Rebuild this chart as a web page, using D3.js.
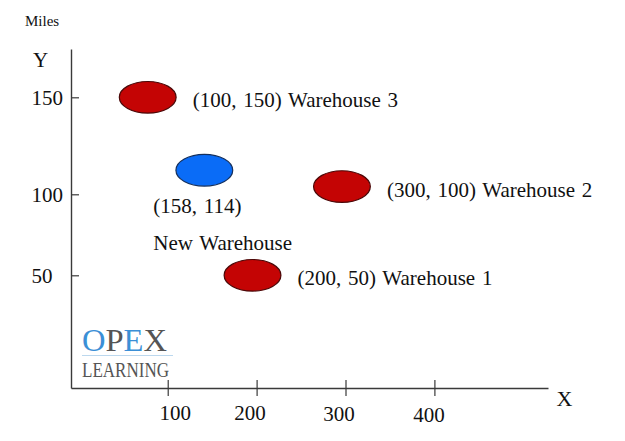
<!DOCTYPE html>
<html>
<head>
<meta charset="utf-8">
<script src="https://cdn.jsdelivr.net/npm/d3@7"></script>
<style>
  html, body { margin: 0; padding: 0; background: #fff; }
  svg { display: block; }
  text { font-family: "Liberation Serif", "Times New Roman", serif; fill: #111; }
</style>
</head>
<body>
<svg id="chart" width="625" height="441"></svg>
<script>
// ---- data ----
const xTicks = [100, 200, 300, 400];
const yTicks = [50, 100, 150];
const siteNames = ["Warehouse 3", "Warehouse 2", "Warehouse 1", "New Warehouse"];
const statedX = [100, 300, 200, 158];
const statedY = [150, 100, 50, 114];
// positions where the ellipses are drawn on the (hand-drawn) axes
const plotX = [77.5, 296, 195.4, 141.2];
const plotY = [150, 104, 50, 112.4];
const siteType = ["existing", "existing", "existing", "new"];

// ---- layout ----
const svg = d3.select("#chart");
const FONT = 21;

const x = d3.scaleLinear().domain([-8.8, 527.8]).range([71, 548]);
const y = d3.scaleLinear()
  .domain([-19.75, 50, 100, 150, 174.7])
  .range([388, 275.3, 194.3, 97.3, 49]);

const axisColor = "#3a3a3a";

// X axis
const gx = svg.append("g").attr("transform", `translate(0,${y(-19.75)})`)
  .call(d3.axisBottom(x).tickValues(xTicks).tickSize(8).tickSizeOuter(0).tickFormat(d3.format("d")));
gx.select(".domain").attr("stroke", axisColor).attr("stroke-width", 1.4);
gx.selectAll(".tick line").attr("stroke", axisColor).attr("stroke-width", 1.2).attr("y1", -8).attr("y2", 8);
const xDx = [7, -7, -7, -6];
gx.selectAll(".tick text")
  .attr("font-family", null).attr("font-size", FONT + "px")
  .attr("fill", "#111")
  .attr("dy", null)
  .attr("y", (d, i) => [32, 32, 32.5, 33.5][i])
  .attr("dx", (d, i) => xDx[i]);

// Y axis
const gy = svg.append("g").attr("transform", `translate(${x(-8.8)},0)`)
  .call(d3.axisLeft(y).tickValues(yTicks).tickSize(-8).tickSizeOuter(0).tickFormat(d3.format("d")));
gy.select(".domain").attr("stroke", axisColor).attr("stroke-width", 1.4);
gy.selectAll(".tick line").attr("stroke", axisColor).attr("stroke-width", 1.2);
gy.selectAll(".tick text")
  .attr("font-family", null).attr("font-size", FONT + "px")
  .attr("fill", "#111")
  .attr("text-anchor", "start")
  .attr("x", -39.5)
  .attr("dy", null)
  .attr("y", 7);

// axis titles
svg.append("text").attr("x", 25).attr("y", 25.5).attr("font-size", "15px").text("Miles");
svg.append("text").attr("x", 33).attr("y", 67).attr("font-size", "21px").text("Y");
svg.append("text").attr("x", 556.5).attr("y", 405.5).attr("font-size", "22px").text("X");

// ellipses
const sites = siteNames.map((n, i) => ({
  name: n, sx: statedX[i], sy: statedY[i], px: plotX[i], py: plotY[i], type: siteType[i]
}));

svg.append("g").selectAll("ellipse").data(sites).join("ellipse")
  .attr("cx", d => x(d.px))
  .attr("cy", d => y(d.py))
  .attr("rx", 28.4)
  .attr("ry", 15.8)
  .attr("fill", d => d.type === "new" ? "#0a6cf7" : "#c40404")
  .attr("stroke", d => d.type === "new" ? "#14305e" : "#4a0808")
  .attr("stroke-width", 1.2);

// labels for existing warehouses
svg.append("g").selectAll("text").data(sites.filter(d => d.type !== "new")).join("text")
  .attr("x", d => x(d.px) + 45)
  .attr("y", d => y(d.py) + 10)
  .attr("font-size", FONT + "px")
  .style("word-spacing", "1.5px")
  .text(d => `(${d.sx}, ${d.sy}) ${d.name}`);

// label for new warehouse (two lines below)
const nw = sites.find(d => d.type === "new");
svg.append("text")
  .attr("x", x(nw.px) - 51).attr("y", y(nw.py) + 43)
  .attr("font-size", FONT + "px")
  .style("word-spacing", "1.5px")
  .text(`(${nw.sx}, ${nw.sy})`);
svg.append("text")
  .attr("x", x(nw.px) - 51).attr("y", y(nw.py) + 80)
  .attr("font-size", FONT + "px")
  .style("word-spacing", "1.5px")
  .text(nw.name);

// OPEX Learning logo
const logo = svg.append("g");
const opex = logo.append("text").attr("x", 82).attr("y", 350.5)
  .attr("font-size", "32px").attr("textLength", 85).attr("lengthAdjust", "spacingAndGlyphs")
  .style("font-family", "'Liberation Serif', serif");
const blue = "#3b8fd6", grey = "#555";
[["O", blue], ["P", grey], ["E", blue], ["X", grey]].forEach(([c, col]) => {
  opex.append("tspan").attr("fill", col).style("fill", col).text(c);
});
logo.append("line").attr("x1", 82).attr("x2", 173).attr("y1", 355.5).attr("y2", 355.5)
  .attr("stroke", "#bcd8ee").attr("stroke-width", 1);
logo.append("text").attr("x", 82).attr("y", 376.5)
  .attr("font-size", "20px").attr("fill", grey)
  .attr("textLength", 87).attr("lengthAdjust", "spacingAndGlyphs")
  .style("fill", grey)
  .text("LEARNING");
</script>
</body>
</html>
